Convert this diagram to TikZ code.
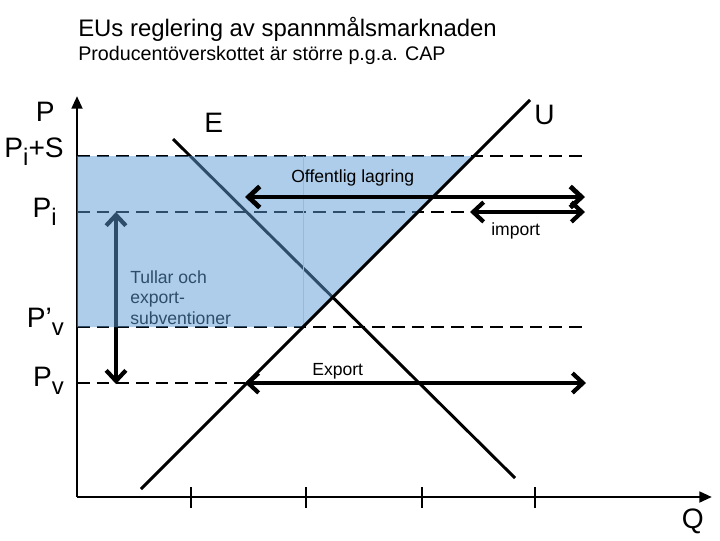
\documentclass[tikz,border=0pt]{standalone}
\usepackage{fontspec}
\setmainfont{Liberation Sans}
\usetikzlibrary{arrows.meta, positioning}
\definecolor{capblue}{RGB}{91,155,213}
\definecolor{capseam}{RGB}{150,186,222}
\newcommand{\lowsub}[1]{\raisebox{-0.3em}{\scalebox{0.85}{#1}}}
\tikzset{
  axisline/.style={line width=2.1pt, -{Triangle[length=9pt, width=7.5pt]}},
  tickmark/.style={line width=1.8pt},
  priceline/.style={line width=2.1pt, dash pattern=on 9pt off 5pt},
  curveline/.style={line width=2.1pt},
  dblarrow/.style={line width=3.4pt, {Straight Barb[length=8pt, width=15pt]}-{Straight Barb[length=8pt, width=15pt]}},
  thinarrow/.style={line width=3pt, {Straight Barb[length=7.5pt, width=14pt]}-{Straight Barb[length=7.5pt, width=14pt]}},
  biglabel/.style={font=\fontsize{20}{22}\selectfont, inner sep=0pt},
  smalllabel/.style={font=\fontsize{12.5}{15}\selectfont, inner sep=0pt}
}

\begin{document}
\begin{tikzpicture}[x=0.025cm, y=-0.025cm]
  \useasboundingbox (0,0) rectangle (720,540);

  % titel
  \node[anchor=base west, inner sep=0pt, font=\fontsize{17}{20}\selectfont] (title) at (78,36) {EUs reglering av spannmålsmarknaden};
  \node[anchor=base west, inner sep=0pt, font=\fontsize{14}{16}\selectfont] (subtitle) at (78,60) {Producentöverskottet är större p.g.a. CAP};

  % axlar
  \coordinate (origo) at (77,497);
  \coordinate (ytop) at (77,96);
  \coordinate (xend) at (712,497);
  \draw[axisline] (origo) -- (ytop);
  \draw[axisline] (origo) -- (xend);
  \foreach \tx [count=\k] in {191,306,422,535} {
    \coordinate (tick\k a) at (\tx,487);
    \coordinate (tick\k b) at (\tx,508);
    \draw[tickmark] (tick\k a) -- (tick\k b);
  }

  % prisnivaer
  \coordinate (pis0) at (77,156);   \coordinate (pis1) at (588,156);
  \coordinate (pi0) at (77,212);    \coordinate (pi1) at (470,212);
  \coordinate (pvp0) at (77,327);   \coordinate (pvp1) at (588,327);
  \coordinate (pv0) at (77,383);    \coordinate (pv1) at (245,383);
  \draw[priceline] (pis0) -- (pis1);
  \draw[priceline] (pi0) -- (pi1);
  \draw[priceline] (pvp0) -- (pvp1);
  \draw[priceline] (pv0) -- (pv1);

  % efterfragan
  \coordinate (dtop) at (173,139);
  \coordinate (dbot) at (515,478);
  \draw[curveline] (dtop) -- (dbot);

  % tullar
  \coordinate (tup) at (116,212);
  \coordinate (tdown) at (116,384);
  \draw[thinarrow] (tup) -- (tdown);
  \node[smalllabel, anchor=base west, align=left] (tullar) at (130,324)
    {Tullar och\\[-0.5pt]export-\\[-0.5pt]subventioner};

  % producentoverskott
  \coordinate (ps1) at (77,156);
  \coordinate (ps2) at (474,156);
  \coordinate (ps3) at (303,327);
  \coordinate (ps4) at (77,327);
  \coordinate (seamtop) at (303,156);
  \fill[capblue, opacity=0.5] (ps1) -- (ps2) -- (ps3) -- (ps4) -- cycle;
  \draw[capseam, line width=0.6pt] (seamtop) -- (ps3);

  % utbud
  \coordinate (stop) at (530,100);
  \coordinate (sbot) at (141,489);
  \draw[curveline] (sbot) -- (stop);

  % pilar
  \coordinate (ol0) at (245,197);  \coordinate (ol1) at (585,197);
  \coordinate (im0) at (470,212);  \coordinate (im1) at (585,212);
  \coordinate (ex0) at (245,383);  \coordinate (ex1) at (586,383);
  \draw[dblarrow] (ol0) -- (ol1);
  \draw[thinarrow] (im0) -- (im1);
  \draw[thinarrow] (ex0) -- (ex1);
  \node[smalllabel, anchor=base west] (lagring) at (291,182) {Offentlig lagring};
  \node[smalllabel, anchor=base west] (import) at (491,235) {import};
  \node[smalllabel, anchor=base west] (export) at (312,375) {Export};

  % etiketter
  \node[biglabel, anchor=base east] (plab) at (55,121) {P};
  \node[biglabel, anchor=base east] (pislab) at (64,157) {P\lowsub{i}+S};
  \node[biglabel, anchor=base east] (pilab) at (57,217) {P\lowsub{i}};
  \node[biglabel, anchor=base east] (pvplab) at (64,327) {P’\lowsub{v}};
  \node[biglabel, anchor=base east] (pvlab) at (64,386) {P\lowsub{v}};
  \node[biglabel, anchor=base west] (elab) at (204,132) {E};
  \node[biglabel, anchor=base west] (ulab) at (534,124) {U};
  \node[biglabel, anchor=base east] (qlab) at (704,528) {Q};
\end{tikzpicture}
\end{document}
